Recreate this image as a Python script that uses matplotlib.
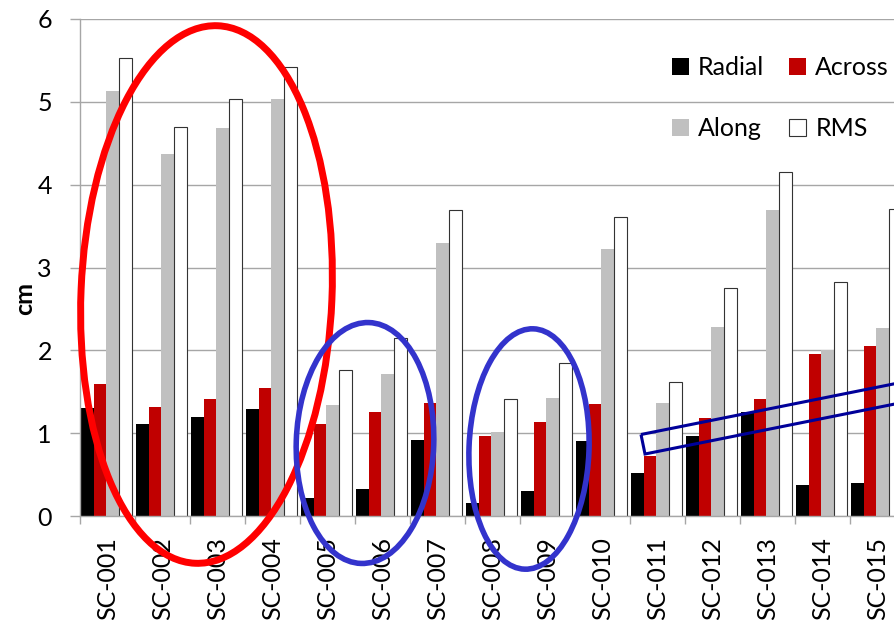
import numpy as np
import matplotlib
matplotlib.use('Agg')
import matplotlib.pyplot as plt
import matplotlib.patches as patches

plt.rcParams['font.family'] = ['Lato', 'DejaVu Sans']

# Data (cm)
categories = ['SC-001', 'SC-002', 'SC-003', 'SC-004', 'SC-005', 'SC-006', 'SC-007', 'SC-008',
              'SC-009', 'SC-010', 'SC-011', 'SC-012', 'SC-013', 'SC-014', 'SC-015']
radial = [1.30, 1.11, 1.20, 1.29, 0.22, 0.33, 0.92, 0.16, 0.30, 0.91, 0.52, 0.97, 1.25, 0.38, 0.40]
across = [1.59, 1.31, 1.41, 1.54, 1.11, 1.25, 1.37, 0.97, 1.14, 1.35, 0.73, 1.18, 1.41, 1.96, 2.05]
along = [5.13, 4.37, 4.68, 5.04, 1.34, 1.71, 3.29, 1.02, 1.43, 3.22, 1.36, 2.28, 3.70, 2.00, 2.27]
rms = [5.53, 4.70, 5.04, 5.42, 1.76, 2.15, 3.69, 1.41, 1.85, 3.61, 1.62, 2.75, 4.15, 2.82, 3.71]

W, H = 894, 620
fig = plt.figure(figsize=(W / 100, H / 100), dpi=100)

# plot area in pixels (it runs past the right edge of the picture)
left, right, top, bottom = 80, 905, 19, 516
ax = fig.add_axes([left / W, 1 - bottom / H, (right - left) / W, (bottom - top) / H])

x = np.arange(len(categories))
bw = 0.232
shift = -0.02
ax.bar(x + shift - 1.5 * bw, radial, bw, color='black', label='Radial', zorder=2)
ax.bar(x + shift - 0.5 * bw, across, bw, color='#C00000', label='Across', zorder=2)
ax.bar(x + shift + 0.5 * bw, along, bw, color='#C0C0C0', label='Along', zorder=2)
ax.bar(x + shift + 1.5 * bw, rms, bw, color='white', edgecolor='#333333', linewidth=0.8,
       label='RMS', zorder=2)

ax.set_xlim(-0.5, len(categories) - 0.5)
ax.set_ylim(0, 6)
ax.set_yticks(np.arange(0, 7, 1))
ax.yaxis.grid(True, color='#A6A6A6', linewidth=1.0)
ax.set_axisbelow(True)

ax.set_xticks(x)
ax.set_xticklabels(categories, rotation=90, fontsize=18)
ax.set_xticks(np.arange(-0.5, len(categories), 1), minor=True)
ax.tick_params(axis='x', which='major', length=0, pad=15)
ax.tick_params(axis='x', which='minor', length=6, color='#A6A6A6', width=1.0)
ax.tick_params(axis='y', length=7.2, color='#A6A6A6', width=1.0, labelsize=18, pad=13)

for s in ['top', 'right']:
    ax.spines[s].set_visible(False)
for s in ['left', 'bottom']:
    ax.spines[s].set_color('#A6A6A6')
    ax.spines[s].set_linewidth(1.0)

fig.text(25 / W, 1 - 299 / H, 'cm', rotation=90, fontsize=18, fontweight='bold',
         ha='center', va='center')

# legend: row 1 Radial / Across, row 2 Along / RMS
h, l = ax.get_legend_handles_labels()
order = [0, 2, 1, 3]
ax.legend([h[i] for i in order], [l[i] for i in order], ncol=2, frameon=False,
          fontsize=18, loc='upper left', bbox_to_anchor=(672 / W, 1 - 56 / H),
          bbox_transform=fig.transFigure, borderpad=0, borderaxespad=0,
          handlelength=0.68, handleheight=0.68, handletextpad=0.36,
          columnspacing=1.0, labelspacing=1.53)

# hand-drawn annotations, placed in picture pixels
def px(xp, yp):
    return (xp / 100, (H - yp) / 100)

tr = fig.dpi_scale_trans
fig.add_artist(patches.Ellipse(px(206.5, 294.5), 2.51, 5.38, angle=-2.4, fill=False,
                               edgecolor='#FF0000', linewidth=5, transform=tr))
fig.add_artist(patches.Ellipse(px(365, 443), 1.375, 2.41, angle=-1.9, fill=False,
                               edgecolor='#3333CC', linewidth=4, transform=tr))
fig.add_artist(patches.Ellipse(px(529, 449), 1.20, 2.405, angle=-2.1, fill=False,
                               edgecolor='#3333CC', linewidth=4, transform=tr))
box = [px(641, 434.5), px(954.8, 371.7), px(958.8, 391.2), px(645, 454)]
fig.add_artist(patches.Polygon(box, closed=True, fill=False, edgecolor='#000099',
                               linewidth=2.2, transform=tr))

fig.savefig('out.png', dpi=100)
